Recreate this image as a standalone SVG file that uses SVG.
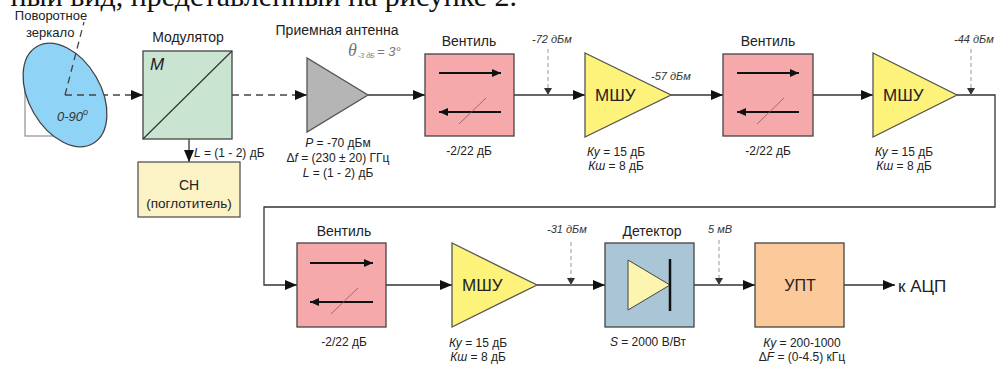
<svg xmlns="http://www.w3.org/2000/svg" width="996" height="365" viewBox="0 0 996 365">
<style>
text{font-family:"Liberation Sans",Arial,sans-serif;fill:#222}
.t14{font-size:14px}
.t13{font-size:13px}
.t12{font-size:12px}
.sm{font-size:11px;font-style:italic;fill:#333}
.it{font-style:italic}
.big{font-size:17px}
.c{text-anchor:middle}
.wire{fill:none;stroke:#333;stroke-width:1.3}
.dash{fill:none;stroke:#444;stroke-width:1.3;stroke-dasharray:7 5}
.probe{fill:none;stroke:#999;stroke-width:1;stroke-dasharray:4 3}
.box{stroke:#444;stroke-width:1.3}
.inner{fill:none;stroke:#111;stroke-width:1.8}
.slash{stroke:#8a5a5a;stroke-width:0.8}
</style>
<defs>
<marker id="ah" markerUnits="userSpaceOnUse" markerWidth="12" markerHeight="10" refX="12" refY="5" orient="auto"><path d="M0,0 L12,5 L0,10 z" fill="#111"/></marker>
<marker id="ahs" markerUnits="userSpaceOnUse" markerWidth="9" markerHeight="8" refX="9" refY="4" orient="auto"><path d="M0,0 L9,4 L0,8 z" fill="#111"/></marker>
<marker id="ahp" markerUnits="userSpaceOnUse" markerWidth="7" markerHeight="8" refX="7" refY="4" orient="auto"><path d="M0,0 L7,4 L0,8 z" fill="#333"/></marker>
</defs>

<text x="517" y="6" style="font-family:'Liberation Serif','Times New Roman',serif;font-size:30px;text-anchor:end;fill:#111">ный вид, представленный на рисунке 2.</text>

<g id="connectors">
<path class="dash" d="M65,95 H143" marker-end="url(#ah)"/>
<path class="dash" d="M232,95 H307" marker-end="url(#ah)"/>
<path class="wire" d="M189,139 V162" marker-end="url(#ah)"/>
<path class="wire" d="M368,95 H425" marker-end="url(#ah)"/>
<path class="wire" d="M514,95 H585" marker-end="url(#ah)"/>
<path class="wire" d="M671,95 H723" marker-end="url(#ah)"/>
<path class="wire" d="M813,95 H873" marker-end="url(#ah)"/>
<path class="wire" d="M957,95 H995 V207 H264 V285 H297" marker-end="url(#ah)"/>
<path class="wire" d="M386,285 H452" marker-end="url(#ah)"/>
<path class="wire" d="M537,285 H605" marker-end="url(#ah)"/>
<path class="wire" d="M694,285 H755" marker-end="url(#ah)"/>
<path class="wire" d="M844,285 H895" marker-end="url(#ah)"/>
<path class="probe" d="M548,49 V95" marker-end="url(#ahp)"/>
<path class="probe" d="M971,49 V95" marker-end="url(#ahp)"/>
<path class="probe" d="M571,242 V285" marker-end="url(#ahp)"/>
<path class="probe" d="M719,240 V285" marker-end="url(#ahp)"/>
</g>

<g id="mirror">
<rect x="25" y="70" width="60" height="66" fill="none" stroke="#999" stroke-width="1.3"/>
<ellipse cx="65" cy="95" rx="36" ry="56" transform="rotate(-30 65 95)" fill="#8fd3f7" stroke="#444" stroke-width="1.3"/>
<path class="dash" d="M65,95 L84,22" stroke-dasharray="6 4"/>
<path class="dash" d="M65,95 H100"/>
<text class="t13 c" x="51" y="20">Поворотное</text>
<text class="t13" x="26" y="37">зеркало</text>
<text class="t13 it" x="57" y="121" style="fill:#333">0-90<tspan font-size="9" dy="-6">o</tspan></text>
</g>

<g id="modulator">
<rect class="box" x="143" y="51" width="89" height="88" fill="#c9e5d2"/>
<line x1="143" y1="139" x2="232" y2="51" stroke="#333" stroke-width="1.2"/>
<text class="it" x="150" y="70" font-size="17">M</text>
<text class="t14 c" x="188" y="42">Модулятор</text>
<text class="t12" x="194" y="157"><tspan class="it">L</tspan> = (1 - 2) дБ</text>
</g>

<g id="absorber">
<rect x="138" y="162" width="102" height="55" fill="#fbf3c6" stroke="#555" stroke-width="1.3"/>
<text class="t14 c" x="189" y="190">СН</text>
<text class="c" x="189" y="208" font-size="13.5">(поглотитель)</text>
</g>

<g id="antenna">
<polygon points="307,58 307,132 368,95" fill="#b5b5b5" stroke="#555" stroke-width="1.3"/>
<text class="t14 c" x="337" y="35">Приемная антенна</text>
<text x="348" y="56" style="font-family:'Liberation Serif',serif;font-style:italic;font-size:18px;fill:#777">θ</text>
<text x="358" y="58" style="font-size:7px;font-style:italic;fill:#777">-3 дБ</text>
<text x="377" y="56" style="font-size:13px;font-style:italic;fill:#777">= 3°</text>
<text class="t12 c" x="338" y="147"><tspan class="it">P</tspan> = -70 дБм</text>
<text class="t12 c" x="338" y="162">Δ<tspan class="it">f</tspan> = (230 ± 20) ГГц</text>
<text class="t12 c" x="338" y="177"><tspan class="it">L</tspan> = (1 - 2) дБ</text>
</g>

<g id="isolator1">
<rect class="box" x="425" y="54" width="89" height="82" fill="#f5a9ab"/>
<path class="inner" d="M439,73 H501" marker-end="url(#ahs)"/>
<path class="inner" d="M501,112 H439" marker-end="url(#ahs)"/>
<line class="slash" x1="459" y1="124" x2="486" y2="98"/>
<text class="t14 c" x="469" y="46">Вентиль</text>
<text class="t12 c" x="469" y="155">-2/22 дБ</text>
</g>

<g id="lna1">
<polygon points="585,53 585,137 671,95" fill="#fdf27a" stroke="#555" stroke-width="1.3"/>
<text class="big" x="595" y="101">МШУ</text>
<text class="sm" x="532" y="43">-72 дБм</text>
<text class="sm" x="651" y="80">-57 дБм</text>
<text class="t12 c" x="616" y="156"><tspan class="it">Ку</tspan> = 15 дБ</text>
<text class="t12 c" x="616" y="170"><tspan class="it">Кш</tspan> = 8 дБ</text>
</g>

<g id="isolator2">
<rect class="box" x="723" y="54" width="90" height="82" fill="#f5a9ab"/>
<path class="inner" d="M737,73 H799" marker-end="url(#ahs)"/>
<path class="inner" d="M799,112 H737" marker-end="url(#ahs)"/>
<line class="slash" x1="757" y1="124" x2="784" y2="98"/>
<text class="t14 c" x="768" y="46">Вентиль</text>
<text class="t12 c" x="768" y="155">-2/22 дБ</text>
</g>

<g id="lna2">
<polygon points="873,53 873,137 957,95" fill="#fdf27a" stroke="#555" stroke-width="1.3"/>
<text class="big" x="883" y="101">МШУ</text>
<text class="sm" x="954" y="43">-44 дБм</text>
<text class="t12 c" x="904" y="156"><tspan class="it">Ку</tspan> = 15 дБ</text>
<text class="t12 c" x="904" y="170"><tspan class="it">Кш</tspan> = 8 дБ</text>
</g>

<g id="isolator3">
<rect class="box" x="297" y="243" width="89" height="84" fill="#f5a9ab"/>
<path class="inner" d="M310,263 H373" marker-end="url(#ahs)"/>
<path class="inner" d="M373,302 H310" marker-end="url(#ahs)"/>
<line class="slash" x1="331" y1="314" x2="358" y2="288"/>
<text class="t14 c" x="344" y="236">Вентиль</text>
<text class="t12 c" x="344" y="346">-2/22 дБ</text>
</g>

<g id="lna3">
<polygon points="452,243 452,327 537,285" fill="#fdf27a" stroke="#555" stroke-width="1.3"/>
<text class="big" x="462" y="291">МШУ</text>
<text class="sm" x="547" y="233">-31 дБм</text>
<text class="t12 c" x="478" y="347"><tspan class="it">Ку</tspan> = 15 дБ</text>
<text class="t12 c" x="478" y="361"><tspan class="it">Кш</tspan> = 8 дБ</text>
</g>

<g id="detector">
<rect class="box" x="605" y="243" width="89" height="84" fill="#a9c5d6"/>
<polygon points="628,260 628,310 670,285" fill="#fbf5b0" stroke="#444" stroke-width="1"/>
<line x1="670" y1="259" x2="670" y2="311" stroke="#111" stroke-width="2.5"/>
<text class="t14 c" x="652" y="236">Детектор</text>
<text class="t12 c" x="648" y="346"><tspan class="it">S</tspan> = 2000 В/Вт</text>
<text class="sm" x="708" y="233">5 мВ</text>
</g>

<g id="dcamp">
<rect class="box" x="755" y="243" width="89" height="84" fill="#fcc99a"/>
<text class="c" x="800" y="291" font-size="16">УПТ</text>
<text class="t12 c" x="802" y="347"><tspan class="it">Ку</tspan> = 200-1000</text>
<text class="t12 c" x="802" y="361">Δ<tspan class="it">F</tspan> = (0-4.5) кГц</text>
</g>

<g id="adc">
<text class="big" x="898" y="292">к АЦП</text>
</g>
</svg>
